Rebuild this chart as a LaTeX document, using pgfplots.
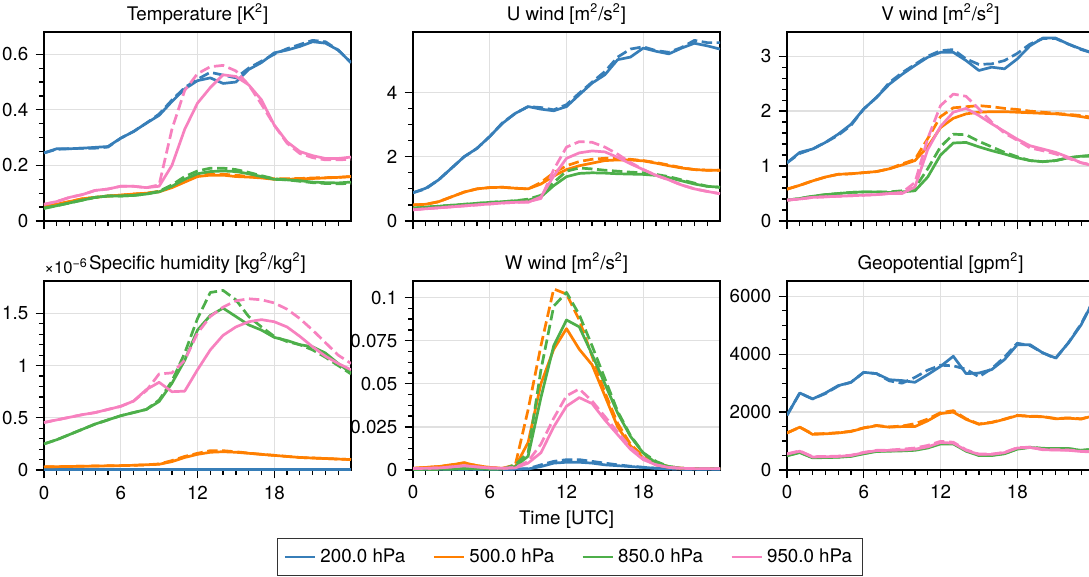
\documentclass[border=0pt]{standalone}
\usepackage{pgfplots}
\usepackage{pgfplotstable}
\pgfplotsset{compat=1.18}
\usepackage{fontspec}
\setmainfont{TeX Gyre Heros}

\definecolor{c1}{HTML}{377EB8}
\definecolor{c2}{HTML}{FF7F00}
\definecolor{c3}{HTML}{4DAF4A}
\definecolor{c4}{HTML}{F781BF}

\pgfplotstableread{
h b bd o od g gd p pd
0 0.245 0.245 0.055 0.055 0.045 0.047 0.060 0.060
1 0.260 0.258 0.060 0.060 0.055 0.055 0.070 0.070
2 0.260 0.260 0.070 0.070 0.065 0.065 0.085 0.085
3 0.262 0.262 0.080 0.080 0.075 0.075 0.095 0.095
4 0.265 0.262 0.085 0.085 0.085 0.085 0.110 0.110
5 0.268 0.266 0.090 0.090 0.090 0.090 0.115 0.115
6 0.298 0.298 0.093 0.093 0.090 0.090 0.125 0.125
7 0.322 0.322 0.097 0.097 0.092 0.092 0.125 0.125
8 0.352 0.352 0.100 0.100 0.097 0.097 0.120 0.120
9 0.380 0.385 0.105 0.107 0.105 0.107 0.125 0.130
10 0.430 0.435 0.120 0.125 0.125 0.130 0.200 0.330
11 0.475 0.480 0.140 0.145 0.150 0.160 0.330 0.470
12 0.505 0.510 0.160 0.165 0.170 0.180 0.424 0.530
13 0.515 0.535 0.165 0.170 0.178 0.190 0.480 0.555
14 0.495 0.525 0.165 0.168 0.180 0.190 0.526 0.560
15 0.500 0.515 0.160 0.165 0.178 0.185 0.520 0.540
16 0.545 0.550 0.158 0.160 0.170 0.175 0.490 0.490
17 0.570 0.575 0.155 0.157 0.160 0.163 0.436 0.420
18 0.605 0.600 0.150 0.152 0.150 0.152 0.345 0.345
19 0.615 0.620 0.150 0.152 0.148 0.148 0.285 0.280
20 0.628 0.635 0.152 0.153 0.145 0.143 0.250 0.243
21 0.645 0.650 0.153 0.155 0.140 0.138 0.235 0.228
22 0.640 0.645 0.155 0.156 0.138 0.135 0.225 0.220
23 0.615 0.615 0.157 0.157 0.137 0.134 0.225 0.220
24 0.570 0.570 0.160 0.160 0.140 0.135 0.230 0.222
}\tabT

\pgfplotstableread{
h b bd o od g gd p pd
0 0.88 0.88 0.50 0.50 0.40 0.40 0.35 0.35
1 1.02 1.00 0.52 0.52 0.43 0.43 0.38 0.38
2 1.28 1.28 0.60 0.60 0.46 0.46 0.41 0.41
3 1.64 1.64 0.75 0.75 0.49 0.49 0.44 0.44
4 2.00 2.00 0.90 0.90 0.52 0.52 0.47 0.47
5 2.26 2.26 1.00 1.00 0.55 0.55 0.50 0.50
6 2.63 2.63 1.04 1.04 0.58 0.58 0.53 0.53
7 3.04 3.06 1.05 1.05 0.60 0.60 0.56 0.56
8 3.35 3.35 1.02 1.02 0.63 0.63 0.58 0.58
9 3.56 3.56 1.00 1.00 0.65 0.68 0.58 0.60
10 3.48 3.53 1.15 1.20 0.75 0.80 0.75 0.70
11 3.43 3.46 1.40 1.50 1.10 1.20 1.40 1.60
12 3.56 3.62 1.60 1.72 1.38 1.55 1.95 2.30
13 3.93 3.98 1.72 1.85 1.48 1.65 2.12 2.47
14 4.29 4.32 1.80 1.92 1.50 1.62 2.18 2.45
15 4.55 4.65 1.88 1.95 1.49 1.58 2.15 2.30
16 5.02 5.10 1.90 1.95 1.47 1.55 1.98 2.08
17 5.10 5.35 1.90 1.92 1.46 1.52 1.78 1.82
18 5.38 5.42 1.87 1.88 1.45 1.50 1.60 1.60
19 5.28 5.30 1.80 1.82 1.42 1.45 1.42 1.42
20 5.20 5.25 1.72 1.74 1.35 1.38 1.28 1.28
21 5.38 5.40 1.65 1.66 1.25 1.28 1.12 1.12
22 5.53 5.62 1.60 1.60 1.15 1.18 1.00 1.00
23 5.45 5.55 1.58 1.58 1.08 1.08 0.92 0.92
24 5.35 5.55 1.58 1.58 1.05 1.05 0.85 0.85
}\tabU

\pgfplotstableread{
h b bd o od g gd p pd
0 1.06 1.06 0.58 0.58 0.38 0.38 0.38 0.38
1 1.25 1.23 0.65 0.65 0.41 0.41 0.40 0.40
2 1.31 1.31 0.73 0.73 0.45 0.45 0.43 0.43
3 1.43 1.43 0.80 0.80 0.48 0.48 0.44 0.44
4 1.58 1.56 0.85 0.85 0.50 0.50 0.45 0.45
5 1.76 1.74 0.86 0.86 0.52 0.52 0.46 0.46
6 2.04 2.04 0.88 0.88 0.53 0.53 0.47 0.47
7 2.25 2.25 0.90 0.90 0.53 0.53 0.48 0.48
8 2.49 2.52 0.95 0.95 0.52 0.53 0.50 0.50
9 2.67 2.70 1.02 1.04 0.53 0.55 0.50 0.52
10 2.83 2.85 1.10 1.12 0.55 0.60 0.62 0.70
11 2.98 3.00 1.35 1.50 0.80 0.95 1.30 1.50
12 3.07 3.10 1.70 1.90 1.20 1.35 1.72 2.10
13 3.07 3.12 1.87 2.06 1.42 1.58 1.98 2.31
14 2.92 2.95 1.95 2.08 1.43 1.57 2.05 2.27
15 2.74 2.85 1.98 2.10 1.35 1.45 1.92 2.04
16 2.80 2.86 1.99 2.08 1.28 1.35 1.77 1.80
17 2.77 2.92 1.99 2.05 1.22 1.25 1.63 1.60
18 2.95 3.05 1.98 2.03 1.15 1.17 1.49 1.47
19 3.19 3.22 1.97 2.00 1.10 1.10 1.37 1.33
20 3.33 3.32 1.96 1.98 1.08 1.08 1.31 1.28
21 3.33 3.32 1.95 1.96 1.10 1.10 1.25 1.22
22 3.22 3.22 1.93 1.94 1.15 1.15 1.16 1.14
23 3.13 3.12 1.90 1.92 1.18 1.18 1.06 1.06
24 3.05 3.05 1.86 1.88 1.18 1.20 1.00 1.02
}\tabV

\pgfplotstableread{
h b bd o od g gd p pd
0 0.005 0.005 0.030 0.030 0.25 0.25 0.455 0.455
1 0.005 0.005 0.032 0.032 0.29 0.29 0.48 0.48
2 0.005 0.005 0.034 0.034 0.34 0.34 0.505 0.505
3 0.005 0.005 0.036 0.036 0.39 0.39 0.53 0.53
4 0.005 0.005 0.038 0.038 0.44 0.44 0.55 0.55
5 0.005 0.005 0.040 0.040 0.48 0.48 0.58 0.58
6 0.005 0.005 0.042 0.042 0.52 0.52 0.61 0.61
7 0.005 0.005 0.045 0.045 0.55 0.55 0.66 0.66
8 0.005 0.005 0.050 0.050 0.58 0.58 0.77 0.76
9 0.005 0.005 0.055 0.058 0.656 0.67 0.84 0.92
10 0.005 0.005 0.080 0.090 0.83 0.85 0.75 0.93
11 0.005 0.005 0.120 0.130 1.05 1.12 0.755 1.05
12 0.005 0.005 0.150 0.160 1.34 1.45 0.96 1.31
13 0.005 0.005 0.170 0.185 1.48 1.70 1.15 1.47
14 0.005 0.005 0.175 0.185 1.55 1.72 1.29 1.56
15 0.005 0.005 0.170 0.175 1.47 1.63 1.37 1.62
16 0.005 0.005 0.160 0.162 1.39 1.47 1.42 1.64
17 0.005 0.005 0.150 0.150 1.34 1.37 1.44 1.63
18 0.005 0.005 0.140 0.140 1.27 1.28 1.42 1.60
19 0.005 0.005 0.130 0.130 1.24 1.23 1.37 1.54
20 0.005 0.005 0.120 0.120 1.20 1.20 1.28 1.45
21 0.005 0.005 0.115 0.115 1.18 1.15 1.18 1.34
22 0.005 0.005 0.110 0.110 1.12 1.08 1.09 1.22
23 0.005 0.005 0.105 0.105 1.02 1.00 1.02 1.10
24 0.005 0.005 0.100 0.100 0.93 0.92 0.96 1.02
}\tabQ

\pgfplotstableread{
h b bd o od g gd p pd
0 0.0005 0.0005 0.0010 0.0010 0.0005 0.0005 0.0008 0.0008
1 0.0005 0.0005 0.0015 0.0015 0.0005 0.0005 0.0010 0.0010
2 0.0005 0.0005 0.0020 0.0020 0.0005 0.0005 0.0012 0.0012
3 0.0005 0.0005 0.0030 0.0030 0.0006 0.0006 0.0018 0.0018
4 0.0005 0.0005 0.0042 0.0042 0.0007 0.0007 0.0025 0.0025
5 0.0005 0.0005 0.0025 0.0025 0.0007 0.0007 0.0018 0.0018
6 0.0005 0.0005 0.0015 0.0015 0.0006 0.0006 0.0012 0.0012
7 0.0005 0.0005 0.0010 0.0010 0.0006 0.0006 0.0010 0.0010
8 0.0005 0.0005 0.0020 0.0030 0.0020 0.0030 0.0012 0.0015
9 0.0006 0.0008 0.0160 0.0350 0.0080 0.0100 0.0040 0.0050
10 0.0020 0.0030 0.0500 0.0720 0.0420 0.0580 0.0100 0.0150
11 0.0040 0.0050 0.0700 0.1050 0.0720 0.0950 0.0250 0.0300
12 0.0045 0.0060 0.0820 0.1020 0.0870 0.1030 0.0370 0.0430
13 0.0045 0.0060 0.0700 0.0870 0.0830 0.0900 0.0420 0.0470
14 0.0040 0.0050 0.0610 0.0660 0.0670 0.0720 0.0385 0.0400
15 0.0030 0.0040 0.0430 0.0450 0.0500 0.0530 0.0290 0.0310
16 0.0025 0.0030 0.0250 0.0270 0.0330 0.0340 0.0205 0.0220
17 0.0020 0.0022 0.0140 0.0150 0.0195 0.0200 0.0120 0.0130
18 0.0015 0.0016 0.0070 0.0080 0.0098 0.0100 0.0060 0.0070
19 0.0010 0.0010 0.0030 0.0040 0.0040 0.0050 0.0030 0.0030
20 0.0007 0.0007 0.0015 0.0020 0.0020 0.0020 0.0015 0.0015
21 0.0005 0.0005 0.0010 0.0010 0.0010 0.0010 0.0010 0.0010
22 0.0005 0.0005 0.0008 0.0008 0.0008 0.0008 0.0008 0.0008
23 0.0005 0.0005 0.0008 0.0008 0.0008 0.0008 0.0008 0.0008
24 0.0005 0.0005 0.0008 0.0008 0.0008 0.0008 0.0008 0.0008
}\tabW

\pgfplotstableread{
h b bd o od g gd p pd
0 1890 1890 1280 1280 490 500 550 560
1 2660 2660 1480 1480 600 610 650 660
2 2455 2455 1230 1250 420 430 450 460
3 2660 2640 1250 1260 430 440 460 470
4 2915 2900 1280 1290 440 450 470 480
5 3030 3030 1330 1340 470 480 500 510
6 3375 3375 1450 1460 560 570 600 610
7 3330 3330 1530 1540 640 650 670 680
8 3120 3080 1480 1490 650 660 680 690
9 3090 3000 1500 1520 660 680 690 720
10 3030 3200 1500 1600 680 720 720 760
11 3295 3450 1700 1760 760 800 800 850
12 3580 3620 1950 1980 900 930 950 990
13 3930 3600 2000 2050 900 920 930 960
14 3330 3480 1750 1770 650 670 680 700
15 3350 3220 1580 1590 500 510 540 550
16 3470 3500 1640 1650 500 510 540 550
17 3815 3900 1750 1760 560 570 600 610
18 4330 4380 1880 1890 720 730 760 770
19 4330 4300 1850 1860 780 790 780 790
20 4045 4050 1840 1850 740 750 700 710
21 3870 3850 1770 1780 740 740 690 700
22 4390 4400 1790 1800 740 740 680 690
23 5020 5050 1760 1770 680 680 640 650
24 5890 5900 1880 1880 720 720 620 630
}\tabG

\newcommand{\plotall}[1]{%
  \addplot[c1,sl] table[x=h,y=b]{#1};
  \addplot[c1,dl,forget plot] table[x=h,y=bd]{#1};
  \addplot[c2,sl] table[x=h,y=o]{#1};
  \addplot[c2,dl,forget plot] table[x=h,y=od]{#1};
  \addplot[c3,sl] table[x=h,y=g]{#1};
  \addplot[c3,dl,forget plot] table[x=h,y=gd]{#1};
  \addplot[c4,sl] table[x=h,y=p]{#1};
  \addplot[c4,dl,forget plot] table[x=h,y=pd]{#1};
}

\pgfplotsset{
  every axis title shift=0pt,
  sl/.style={line width=1.3pt, no markers, solid, line join=round},
  dl/.style={line width=1.3pt, no markers, dash pattern=on 5pt off 2.2pt, line join=round},
  panel/.style={
    scale only axis, width=147.36pt, height=90.72pt,
    xmin=0, xmax=24, xtick={0,6,12,18}, minor xtick={1,...,23},
    ymin=0,
    axis line style={line width=0.6pt, black},
    every tick/.style={black, line width=0.6pt},
    major tick length=4pt, minor tick length=2.4pt,
    tick align=outside, xtick pos=bottom, ytick pos=left,
    xmajorgrids, ymajorgrids,
    major grid style={black!12, line width=0.6pt},
    tick label style={font=\fontsize{9}{10}\selectfont},
    title style={font=\fontsize{9}{10}\selectfont},
    label style={font=\fontsize{9}{10}\selectfont},
    /pgf/number format/assume math mode=true,
    scaled y ticks=false, scaled x ticks=false,
    xticklabels={0,6,12,18},
  },
  hidex/.style={xticklabels={}},
}

\begin{document}
\begin{tikzpicture}
% Top row
\begin{axis}[panel, hidex, at={(21.12pt,-106.08pt)}, anchor=south west,
  title={Temperature [K\textsuperscript{2}]},
  ymax=0.68, ytick={0,0.2,0.4,0.6}, yticklabels={0,0.2,0.4,0.6}, minor y tick num=3]
\plotall{\tabT}
\end{axis}
\begin{axis}[panel, hidex, at={(198.24pt,-106.08pt)}, anchor=south west,
  title={U wind [m\textsuperscript{2}/s\textsuperscript{2}]},
  ymax=5.88, ytick={0,2,4}, yticklabels={0,2,4}, minor y tick num=3]
\plotall{\tabU}
\end{axis}
\begin{axis}[panel, hidex, at={(377.76pt,-106.08pt)}, anchor=south west,
  title={V wind [m\textsuperscript{2}/s\textsuperscript{2}]},
  ymax=3.44, ytick={0,1,2,3}, yticklabels={0,1,2,3}, minor y tick num=4]
\plotall{\tabV}
\end{axis}
% Bottom row
\begin{axis}[panel, name=qax, at={(21.12pt,-225.6pt)}, anchor=south west,
  title={Specific humidity [kg\textsuperscript{2}/kg\textsuperscript{2}]},
  ymax=1.81, ytick={0,0.5,1,1.5}, yticklabels={0,0.5,1,1.5}, minor y tick num=4]
\plotall{\tabQ}
\end{axis}
\node[anchor=south west, inner sep=0pt, font=\fontsize{8}{9}\selectfont] at ([yshift=3.2pt]qax.north west) {×10\textsuperscript{−6}};
\begin{axis}[panel, at={(198.24pt,-225.6pt)}, anchor=south west,
  title={W wind [m\textsuperscript{2}/s\textsuperscript{2}]},
  xlabel={Time [UTC]}, xlabel style={yshift=1.5pt},
  ymax=0.1096, ytick={0,0.025,0.05,0.075,0.1}, yticklabels={0,0.025,0.05,0.075,0.1}, minor y tick num=3,
  legend entries={200.0 hPa, 500.0 hPa, 850.0 hPa, 950.0 hPa},
  legend columns=4,
  legend style={at={(0.511,-0.46)}, anchor=center, draw=black!80, line width=0.6pt,
    font=\fontsize{9}{10}\selectfont, inner xsep=3pt, inner ysep=3pt,
    /tikz/every even column/.append style={column sep=11pt}},
  legend image code/.code={\draw[#1, solid] (0pt,0pt) -- (14.4pt,0pt);}]
\plotall{\tabW}
\end{axis}
\begin{axis}[panel, at={(377.76pt,-225.6pt)}, anchor=south west,
  title={Geopotential [gpm\textsuperscript{2}]},
  ymax=6530, ytick={0,2000,4000,6000}, yticklabels={0,2000,4000,6000}, minor y tick num=3]
\plotall{\tabG}
\end{axis}
\pgfresetboundingbox
\useasboundingbox (0pt,0pt) rectangle (522.72pt,-276.48pt);
\end{tikzpicture}
\end{document}
